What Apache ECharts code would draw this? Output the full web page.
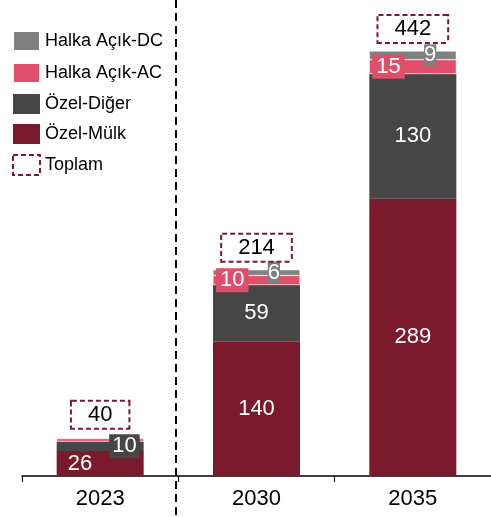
<!DOCTYPE html>
<html>
<head>
<meta charset="utf-8">
<script src="https://cdn.jsdelivr.net/npm/echarts@6/dist/echarts.min.js"></script>
<style>
  html, body { margin: 0; padding: 0; background: #fff; }
  #chart { width: 491px; height: 517px; }
</style>
</head>
<body>
<div id="chart"></div>
<script>
// veriler
const years = ['2023', '2030', '2035']
const ozelMulk = [26, 140, 289]
const ozelDiger = [10, 59, 130]
const halkaAC = [3, 10, 15]
const halkaDC = [1, 6, 9]
const toplam = [40, 214, 442]

const FONT = 'Liberation Sans, Arial, sans-serif'
const C_MULK = '#7a1a2c'
const C_DIGER = '#464646'
const C_AC = '#df4f69'
const C_DC = '#808080'
const BAR_W = 87

const chart = echarts.init(document.getElementById('chart'))

const baseLabel = {
  show: true,
  color: '#fff',
  fontSize: 22,
  fontFamily: FONT
}

// 2023 icin etiket konumlari farkli
const mulkData = ozelMulk.map((v, i) => i === 0
  ? { value: v, label: { position: 'insideLeft', distance: 11 } }
  : v)
const digerData = ozelDiger.map((v, i) => i === 0
  ? { value: v, label: { position: 'insideRight', distance: 4, backgroundColor: C_DIGER, padding: [1, 3] } }
  : v)
const acData = halkaAC.map((v, i) => i === 0 ? { value: v, label: { show: false } } : v)
const dcData = halkaDC.map((v, i) => i === 0 ? { value: v, label: { show: false } } : v)

const option = {
  animation: false,
  textStyle: { fontFamily: FONT },
  legend: {
    orient: 'vertical',
    left: 7,
    top: 25,
    itemWidth: 27,
    itemHeight: 20,
    itemGap: 10,
    icon: 'rect',
    textStyle: { fontSize: 18, color: '#000', fontFamily: FONT },
    data: [
      'Halka Açık-DC',
      'Halka Açık-AC',
      'Özel-Diğer',
      'Özel-Mülk',
      {
        name: 'Toplam',
        itemStyle: { color: '#fff', borderColor: C_MULK, borderWidth: 2, borderType: [5, 3] }
      }
    ]
  },
  grid: { left: 22, right: 0, top: 51, bottom: 41 },
  xAxis: {
    type: 'category',
    data: years,
    axisLine: { lineStyle: { color: '#000', width: 1.5 } },
    axisTick: { show: true, length: 6, lineStyle: { color: '#000' } },
    axisLabel: { color: '#000', fontSize: 22, margin: 12, fontFamily: FONT }
  },
  yAxis: {
    type: 'value',
    min: 0,
    max: 443,
    show: false,
    splitLine: { show: false }
  },
  series: [
    {
      name: 'Özel-Mülk',
      type: 'bar',
      stack: 'a',
      barWidth: BAR_W,
      barGap: '-100%',
      data: mulkData,
      itemStyle: { color: C_MULK },
      label: { ...baseLabel, position: 'inside' }
    },
    {
      name: 'Özel-Diğer',
      type: 'bar',
      stack: 'a',
      barWidth: BAR_W,
      barGap: '-100%',
      data: digerData,
      itemStyle: { color: C_DIGER },
      label: { ...baseLabel, position: 'inside' }
    },
    {
      name: 'Halka Açık-AC',
      type: 'bar',
      stack: 'a',
      barWidth: BAR_W,
      barGap: '-100%',
      data: acData,
      itemStyle: { color: C_AC, borderColor: '#fff', borderWidth: 0.5 },
      label: { ...baseLabel, position: 'insideLeft', distance: 3, backgroundColor: C_AC, padding: [1, 4] }
    },
    {
      name: 'Halka Açık-DC',
      type: 'bar',
      stack: 'a',
      barWidth: BAR_W,
      barGap: '-100%',
      data: dcData,
      itemStyle: { color: C_DC, borderColor: '#fff', borderWidth: 0.5 },
      label: { ...baseLabel, position: 'insideRight', distance: 20, backgroundColor: C_DC, padding: [0, 0] }
    },
    {
      name: 'Toplam',
      type: 'bar',
      barWidth: BAR_W,
      barGap: '-100%',
      data: toplam,
      silent: true,
      itemStyle: { color: 'rgba(0,0,0,0)', borderWidth: 0 },
      label: {
        show: true,
        position: 'top',
        distance: 10,
        color: '#000',
        fontSize: 22,
        fontFamily: FONT,
        backgroundColor: '#fff',
        borderColor: C_MULK,
        borderWidth: 2,
        borderType: [5, 3],
        padding: [2, 16, 2, 16]
      }
    }
  ],
  graphic: [
    {
      type: 'line',
      shape: { x1: 176, y1: 0, x2: 176, y2: 517 },
      style: { stroke: '#000', lineWidth: 2, lineDash: [8, 5] },
      z: 100
    }
  ]
}

chart.setOption(option)
</script>
</body>
</html>
